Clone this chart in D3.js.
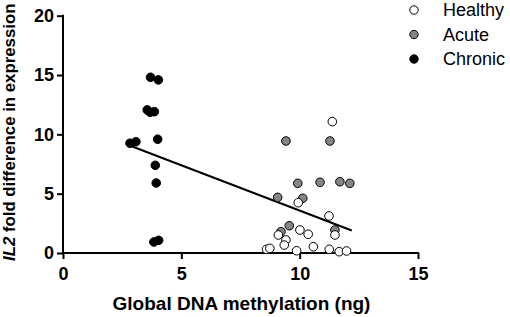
<!DOCTYPE html>
<html><head><meta charset="utf-8">
<script src="https://cdn.jsdelivr.net/npm/d3@7"></script>
<style>body{margin:0;background:#fff}svg{display:block}</style>
</head><body>
<svg id="c" width="510" height="317"></svg>
<script>
const xTicks = [0, 5, 10, 15];
const yTicks = [0, 5, 10, 15, 20];
const seriesNames = ["Healthy", "Acute", "Chronic"];
const chronicX = [3.70, 4.03, 3.56, 3.68, 3.86, 2.83, 3.08, 4.00, 3.90, 3.94, 3.84, 4.04];
const chronicY = [14.81, 14.59, 12.06, 11.86, 11.91, 9.25, 9.38, 9.59, 7.39, 5.90, 0.93, 1.07];
const acuteX = [9.42, 11.28, 9.92, 10.86, 11.70, 12.12, 9.07, 10.13, 9.56, 9.21, 11.49];
const acuteY = [9.44, 9.44, 5.87, 5.96, 6.01, 5.87, 4.69, 4.61, 2.30, 1.80, 1.94];
const healthyX = [11.38, 9.94, 11.24, 10.01, 10.36, 9.10, 9.42, 9.35, 11.49, 8.60, 8.74, 9.87, 10.58, 11.25, 11.67, 11.98];
const healthyY = [11.07, 4.24, 3.12, 1.94, 1.58, 1.52, 1.10, 0.67, 1.52, 0.31, 0.39, 0.19, 0.53, 0.31, 0.11, 0.17];
const fitX = [2.9, 12.2];
const fitY = [9.0, 1.9];

const svg = d3.select("#c");
const font = "'Liberation Sans', Arial, sans-serif";
const x = d3.scaleLinear().domain([0, 15]).range([63, 418]);
const y = d3.scaleLinear().domain([0, 20]).range([253, 15.7]);

const xa = svg.append("g").attr("transform", "translate(0,253)")
  .call(d3.axisBottom(x).tickValues(xTicks).tickSize(6).tickPadding(8).tickSizeOuter(0));
const ya = svg.append("g").attr("transform", "translate(63,0)")
  .call(d3.axisLeft(y).tickValues(yTicks).tickSize(6).tickPadding(3).tickSizeOuter(0));
[xa, ya].forEach(a => {
  a.select(".domain").attr("stroke", "#000").attr("stroke-width", 2);
  a.selectAll(".tick line").attr("stroke", "#000").attr("stroke-width", 2);
  a.selectAll(".tick text").attr("font-family", font).attr("font-weight", "bold")
    .attr("font-size", 18).attr("fill", "#000");
});
xa.select(".domain").attr("d", `M${x(0)-1},0H${x(15)+1}`);
ya.select(".domain").attr("d", `M0,${y(20)-1}V${y(0)+1}`);

svg.append("text").attr("x", (x(0)+x(15))/2 + 1).attr("y", 310)
  .attr("text-anchor", "middle").attr("font-family", font).attr("font-weight", "bold")
  .attr("font-size", 19).text("Global DNA methylation (ng)");

const yt = svg.append("text").attr("transform", `translate(15,261) rotate(-90)`)
  .attr("text-anchor", "start").attr("font-family", font).attr("font-weight", "bold")
  .attr("font-size", 16.8);
yt.append("tspan").attr("font-style", "italic").text("IL2");
yt.append("tspan").text(" fold difference in expression");

svg.append("line").attr("x1", x(fitX[0])).attr("y1", y(fitY[0]))
  .attr("x2", x(fitX[1])).attr("y2", y(fitY[1]))
  .attr("stroke", "#000").attr("stroke-width", 2);

const fills = {Healthy: "#fff", Acute: "#858585", Chronic: "#000"};
function pts(xs, ys, name) {
  svg.append("g").selectAll("circle").data(xs.map((v, i) => [v, ys[i]])).join("circle")
    .attr("cx", d => x(d[0])).attr("cy", d => y(d[1])).attr("r", 4.3)
    .attr("fill", fills[name]).attr("stroke", "#000").attr("stroke-width", 1);
}
pts(chronicX, chronicY, "Chronic");
pts(acuteX, acuteY, "Acute");
pts(healthyX, healthyY, "Healthy");

const lg = svg.append("g");
seriesNames.forEach((n, i) => {
  const cy = 10 + i * 24.5;
  lg.append("circle").attr("cx", 414).attr("cy", cy).attr("r", 4.2)
    .attr("fill", fills[n]).attr("stroke", "#000").attr("stroke-width", 1);
  lg.append("text").attr("x", 443).attr("y", cy + 6).attr("font-family", font)
    .attr("font-size", 18).attr("fill", "#000").text(n);
});
</script>
</body></html>
